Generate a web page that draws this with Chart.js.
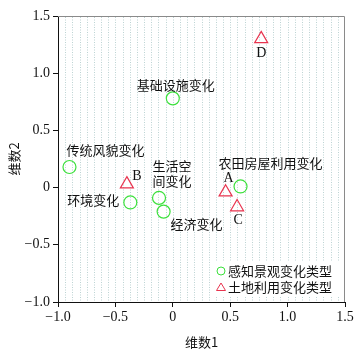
<!DOCTYPE html>
<html>
<head>
<meta charset="utf-8">
<script src="https://cdn.jsdelivr.net/npm/chart.js@4"></script>
<style>
  html, body { margin: 0; padding: 0; background: #fff; }
  #wrap { width: 359px; height: 354px; }
</style>
</head>
<body>
<div id="wrap"><canvas id="mdsChart" width="359" height="354"></canvas></div>
<script>
// 感知景观变化类型 (circles)
const perceptNames = ['传统风貌变化', '基础设施变化', '生活空间变化', '环境变化', '经济变化', '农田房屋利用变化'];
const perceptX = [-0.90, 0.00, -0.12, -0.37, -0.08, 0.59];
const perceptY = [0.18, 0.78, -0.09, -0.13, -0.21, 0.01];

// 土地利用变化类型 (triangles)
const landNames = ['A', 'B', 'C', 'D'];
const landX = [0.46, -0.40, 0.56, 0.77];
const landY = [-0.04, 0.03, -0.17, 1.30];

const xTicks = [-1.0, -0.5, 0, 0.5, 1.0, 1.5];
const yTicks = [-1.0, -0.5, 0, 0.5, 1.0, 1.5];

const colors = {
  green: '#3ce03c',
  red: '#e8344f',
  dots: '#bcd3d3',
  frame: '#8a8a8a',
};

const cjkFont = '"Noto Sans CJK SC", sans-serif';
const serifFont = '"Liberation Serif", "Times New Roman", serif';

// label offsets in px from the point (text centre); multi-line labels split by '\n'
const perceptLabelText = ['传统风貌变化', '基础设施变化', '生活空\n间变化', '环境变化', '经济变化', '农田房屋利用变化'];
const perceptLabelOffset = [[36, -17], [3, -13], [13, -32], [-37, -2], [33, 12], [30, -23]];
const landLabelOffset = [[3, -14], [10, -8], [1, 13], [0, 14]];

function fmtTick(v) {
  if (v === 0) return '0';
  const s = Math.abs(v).toFixed(1);
  return v < 0 ? '\u2212' + s : s;
}

// dotted vertical background texture
const dottedBackground = {
  id: 'dottedBackground',
  beforeDatasetsDraw(chart) {
    const { ctx, chartArea, scales } = chart;
    ctx.save();
    ctx.strokeStyle = colors.dots;
    ctx.lineWidth = 1;
    ctx.setLineDash([1, 1.5]);
    for (let v = -1 + 0.0625; v < 1.5; v += 0.0625) {
      const px = Math.round(scales.x.getPixelForValue(v)) + 0.5;
      ctx.beginPath();
      ctx.moveTo(px, chartArea.top + 1);
      ctx.lineTo(px, chartArea.bottom - 1);
      ctx.stroke();
    }
    ctx.restore();
  },
};

// point labels, grey top/right frame, legend inside the plot
const annotate = {
  id: 'annotate',
  afterDraw(chart) {
    const { ctx, chartArea, scales } = chart;
    const x = scales.x, y = scales.y;
    ctx.save();

    // top and right frame
    ctx.strokeStyle = colors.frame;
    ctx.lineWidth = 1;
    ctx.beginPath();
    ctx.moveTo(chartArea.left, chartArea.top + 0.5);
    ctx.lineTo(chartArea.right - 0.5, chartArea.top + 0.5);
    ctx.lineTo(chartArea.right - 0.5, chartArea.bottom);
    ctx.stroke();

    ctx.fillStyle = '#111';
    ctx.textAlign = 'center';
    ctx.textBaseline = 'middle';

    ctx.font = '13px ' + cjkFont;
    perceptLabelText.forEach((t, i) => {
      const px = x.getPixelForValue(perceptX[i]) + perceptLabelOffset[i][0];
      const py = y.getPixelForValue(perceptY[i]) + perceptLabelOffset[i][1];
      t.split('\n').forEach((line, j) => ctx.fillText(line, px, py + j * 15));
    });

    ctx.font = '14px ' + serifFont;
    landNames.forEach((t, i) => {
      const px = x.getPixelForValue(landX[i]) + landLabelOffset[i][0];
      const py = y.getPixelForValue(landY[i]) + landLabelOffset[i][1];
      ctx.fillText(t, px, py);
    });

    // legend
    const lx = chartArea.right - 133, ly = chartArea.bottom - 40;
    ctx.fillStyle = '#fff';
    ctx.fillRect(lx, ly, 128, 35);
    ctx.lineWidth = 1;
    ctx.strokeStyle = colors.green;
    ctx.beginPath();
    ctx.arc(lx + 9, ly + 9, 4, 0, Math.PI * 2);
    ctx.stroke();
    ctx.strokeStyle = colors.red;
    ctx.beginPath();
    ctx.moveTo(lx + 9, ly + 21);
    ctx.lineTo(lx + 13.5, ly + 28.5);
    ctx.lineTo(lx + 4.5, ly + 28.5);
    ctx.closePath();
    ctx.stroke();
    ctx.fillStyle = '#111';
    ctx.textAlign = 'left';
    ctx.font = '13px ' + cjkFont;
    ctx.fillText('感知景观变化类型', lx + 16, ly + 9);
    ctx.fillText('土地利用变化类型', lx + 16, ly + 25);

    ctx.restore();
  },
};

const perceptData = perceptX.map((v, i) => ({ x: v, y: perceptY[i] }));
const landData = landX.map((v, i) => ({ x: v, y: landY[i] }));

new Chart(document.getElementById('mdsChart'), {
  type: 'scatter',
  data: {
    datasets: [
      {
        label: '感知景观变化类型',
        data: perceptData,
        pointStyle: 'circle',
        pointRadius: 6.5,
        pointHoverRadius: 6.5,
        borderColor: colors.green,
        backgroundColor: 'rgba(0,0,0,0)',
        borderWidth: 1.2,
      },
      {
        label: '土地利用变化类型',
        data: landData,
        pointStyle: 'triangle',
        pointRadius: 7.5,
        pointHoverRadius: 7.5,
        borderColor: colors.red,
        backgroundColor: 'rgba(0,0,0,0)',
        borderWidth: 1.2,
      },
    ],
  },
  options: {
    responsive: false,
    animation: false,
    devicePixelRatio: 1,
    layout: { padding: { top: 16, right: 14, left: 0, bottom: 0 } },
    plugins: {
      legend: { display: false },
      tooltip: { enabled: false },
    },
    scales: {
      x: {
        type: 'linear',
        min: -1,
        max: 1.5,
        afterBuildTicks: (scale) => { scale.ticks = xTicks.map((v) => ({ value: v })); },
        afterFit: (scale) => { scale.height = 52; },
        ticks: {
          callback: (v) => fmtTick(v),
          color: '#111',
          padding: 2,
          font: { family: serifFont, size: 14 },
          maxRotation: 0,
        },
        grid: { drawOnChartArea: false, drawTicks: true, tickLength: 5, color: '#111' },
        border: { color: '#111', width: 1 },
        title: {
          display: true,
          text: '维数1',
          color: '#111',
          padding: { top: 2 },
          font: { family: cjkFont, size: 13 },
        },
      },
      y: {
        type: 'linear',
        min: -1,
        max: 1.5,
        afterBuildTicks: (scale) => { scale.ticks = yTicks.map((v) => ({ value: v })); },
        afterFit: (scale) => { scale.width = 58; },
        ticks: {
          callback: (v) => fmtTick(v),
          color: '#111',
          padding: 3,
          font: { family: serifFont, size: 14 },
        },
        grid: { drawOnChartArea: false, drawTicks: true, tickLength: 5, color: '#111' },
        border: { color: '#111', width: 1 },
        title: {
          display: true,
          text: '维数2',
          color: '#111',
          padding: { top: 6, bottom: 0 },
          font: { family: cjkFont, size: 13 },
        },
      },
    },
  },
  plugins: [dottedBackground, annotate],
});
</script>
</body>
</html>
